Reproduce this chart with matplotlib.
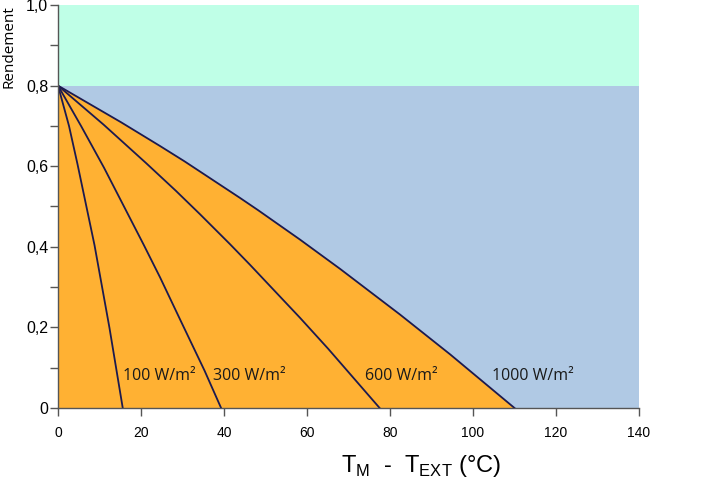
import matplotlib
matplotlib.use("Agg")
import matplotlib.pyplot as plt
from matplotlib.ticker import FixedLocator

# courbes de rendement (T_M - T_EXT, rendement)
x_100 = [0, 2.65, 4.7, 8.8, 12.4, 15.6]
y_100 = [0.8, 0.70, 0.605, 0.404, 0.199, 0.0]

x_300 = [0, 5.6, 11.1, 20.7, 24.6, 29.4, 35.3, 39.3]
y_300 = [0.8, 0.699, 0.596, 0.404, 0.324, 0.220, 0.093, 0.0]

x_600 = [0, 11.0, 21.3, 28.4, 34.2, 41.4, 46.3, 58.3, 65.1, 77.5]
y_600 = [0.8, 0.703, 0.607, 0.539, 0.481, 0.407, 0.355, 0.224, 0.147, 0.0]

x_1000 = [0, 15.2, 24.6, 30.5, 43.9, 48.2, 58.3, 68.0, 82.4, 94.5, 110.0]
y_1000 = [0.8, 0.709, 0.650, 0.612, 0.521, 0.491, 0.418, 0.345, 0.232, 0.133, 0.0]

labels = ["100 W/m²", "300 W/m²", "600 W/m²", "1000 W/m²"]
label_x = [15.7, 37.3, 74.0, 104.5]
label_y = 0.079

xticks = [0, 20, 40, 60, 80, 100, 120, 140]
yticks = [0, 0.2, 0.4, 0.6, 0.8, 1.0]
ytick_labels = ["0", "0,2", "0,4", "0,6", "0,8", "1,0"]

line_col = "#1c1a4f"
orange = "#ffb133"

fig = plt.figure(figsize=(7.02, 4.98), dpi=100)
ax = fig.add_axes([58 / 702, 90 / 498, 581 / 702, 403 / 498])

ax.axhspan(0.8, 1.0, color="#bfffe7", lw=0)
ax.axhspan(0.0, 0.8, color="#b0c9e4", lw=0)
ax.fill_between(x_1000, y_1000, 0, color=orange, lw=0)

for xs, ys in [(x_100, y_100), (x_300, y_300), (x_600, y_600), (x_1000, y_1000)]:
    ax.plot(xs, ys, color=line_col, lw=1.3, solid_joinstyle="round")

for lab, lx in zip(labels, label_x):
    ax.text(lx, label_y, lab, fontsize=11.5, family="Open Sans", color="#1a1a1a",
            ha="left", va="center")

ax.set_xlim(0, 140)
ax.set_ylim(0, 1.0)
ax.set_xticks(xticks)
ax.set_yticks(yticks)
ax.set_yticklabels(ytick_labels)
ax.yaxis.set_minor_locator(FixedLocator([0.1, 0.3, 0.5, 0.7, 0.9]))

for s in ["top", "right"]:
    ax.spines[s].set_visible(False)
for s in ["left", "bottom"]:
    ax.spines[s].set_color("#555555")
    ax.spines[s].set_linewidth(1.0)

ax.tick_params(axis="both", which="both", direction="out", length=6, width=1.0,
               color="#555555")
ax.tick_params(axis="y", labelsize=11.5, pad=1)
ax.tick_params(axis="x", labelsize=10, pad=7)
for t in ax.get_xticklabels() + ax.get_yticklabels():
    t.set_family("Liberation Sans")

fig.text(421 / 702, 1 - 466 / 498,
         r"T$_\mathregular{M}$  -  T$_\mathregular{EXT}$ (°C)",
         fontsize=17, family="Liberation Sans", ha="center", va="center")
fig.text(9 / 702, 1 - 47 / 498, "Rendement", rotation=90, fontsize=11,
         family="Open Sans", ha="center", va="center")

fig.savefig("out.png", dpi=100)
